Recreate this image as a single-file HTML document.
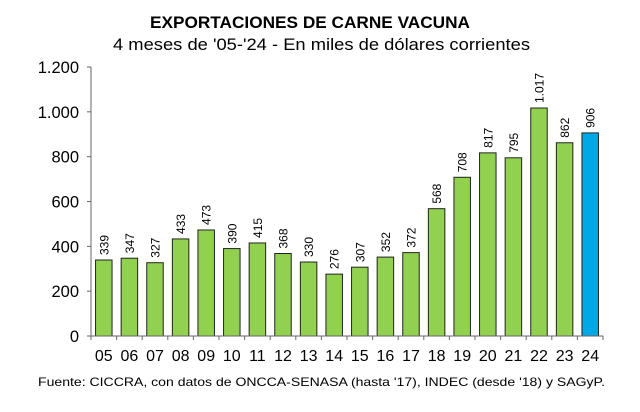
<!DOCTYPE html>
<html><head><meta charset="utf-8"><style>
body{margin:0;background:#fff;}
svg{display:block;font-family:"Liberation Sans",Arial,sans-serif;}
</style></head><body>
<svg width="640" height="412">
<text x="150" y="28" textLength="320" lengthAdjust="spacingAndGlyphs" font-size="17" font-weight="bold">EXPORTACIONES DE CARNE VACUNA</text>
<text x="113" y="50" textLength="417" lengthAdjust="spacingAndGlyphs" font-size="17">4 meses de '05-'24 - En miles de dólares corrientes</text>
<g id="plot"></g>
<text x="38" y="386" textLength="567" lengthAdjust="spacingAndGlyphs" font-size="12">Fuente: CICCRA, con datos de ONCCA-SENASA (hasta '17), INDEC (desde '18) y SAGyP.</text>
</svg>
<script>
const categories=["05","06","07","08","09","10","11","12","13","14","15","16","17","18","19","20","21","22","23","24"];
const values=[339,347,327,433,473,390,415,368,330,276,307,352,372,568,708,817,795,1017,862,906];
const valueLabels=["339","347","327","433","473","390","415","368","330","276","307","352","372","568","708","817","795","1.017","862","906"];
const yTicks=[0,200,400,600,800,1000,1200];
const yTickLabels=["0","200","400","600","800","1.000","1.200"];
const NS="http://www.w3.org/2000/svg";
const g=document.getElementById('plot');
const x0=91,x1=603,y0=336,y1=67,yMax=1200;
const step=(x1-x0)/categories.length,bw=16.5;
const yS=v=>y0-(v/yMax)*(y0-y1);
const xS=i=>x0+step*i+step/2;
function mk(t,a){const e=document.createElementNS(NS,t);for(const k in a)e.setAttribute(k,a[k]);g.appendChild(e);return e;}
yTicks.forEach((v,i)=>{
 const t=mk('line',{x1:x0-4,x2:x0,y1:yS(v),y2:yS(v),stroke:'#666'});
 
 
 const l=mk('text',{x:x0-12,y:yS(v)+6,'text-anchor':'end','font-size':'16.5'});
 l.textContent=yTickLabels[i];
 
 
});
values.forEach((v,i)=>{
 const cx=xS(i);
 const r=mk('rect',{x:cx-bw/2,y:yS(v),width:bw,height:y0-yS(v),fill:i===values.length-1?'#00a8e8':'#92d050',stroke:'#222','stroke-width':'1'});
 
 
 const ty=yS(v)-5;
 const t=mk('text',{x:cx+4.5,y:ty,'font-size':'12',transform:`rotate(-90 ${cx+4.5} ${ty})`});
 t.textContent=valueLabels[i];
 
 
 const c=mk('text',{x:cx,y:y0+25,'text-anchor':'middle','font-size':'16'});
 c.textContent=categories[i];
 
 
});
for(let i=0;i<=categories.length;i++){
 const t=mk('line',{x1:x0+step*i,x2:x0+step*i,y1:y0,y2:y0+4,stroke:'#666'});
 
 
}
const ya=mk('line',{x1:x0,x2:x0,y1:y1,y2:y0,stroke:'#666'});


const xa=mk('line',{x1:x0-4,x2:x1,y1:y0,y2:y0,stroke:'#666'});


</script>
</body></html>
